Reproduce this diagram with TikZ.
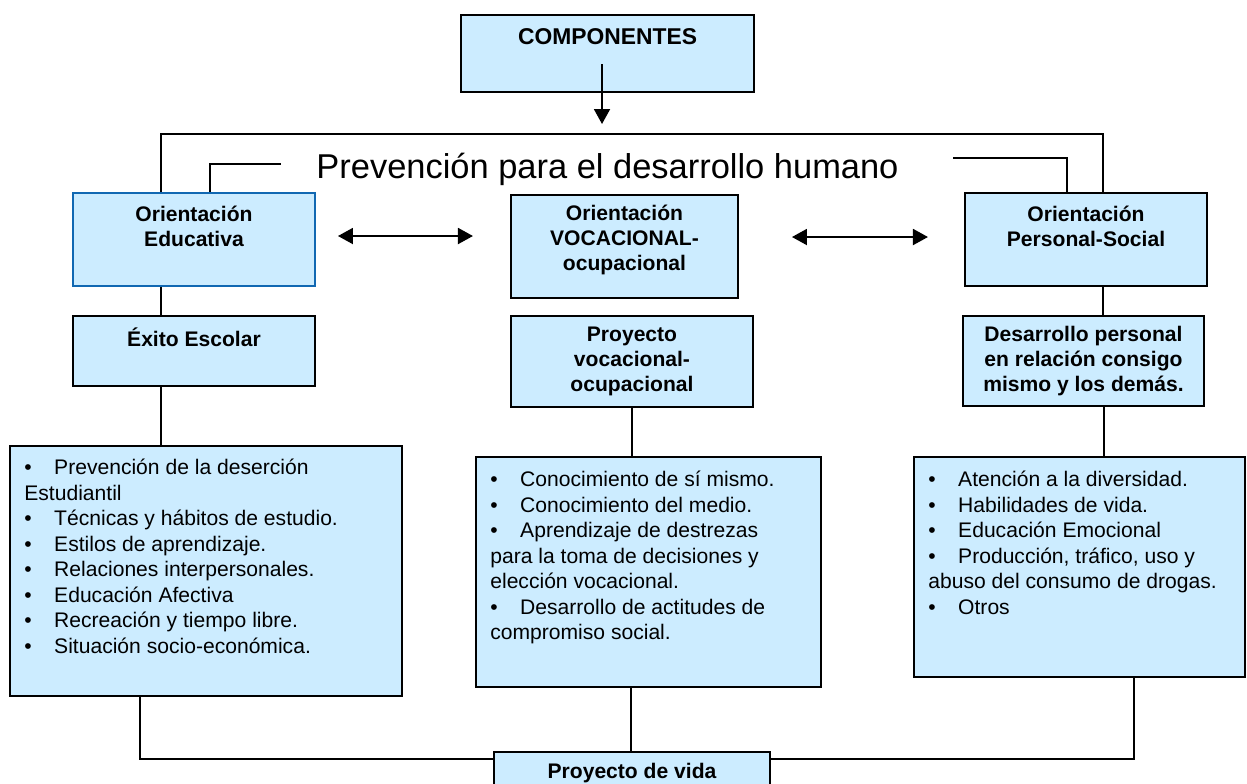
\documentclass[tikz,border=0pt]{standalone}
\usepackage{fontspec}
\setmainfont{Liberation Sans}
\usetikzlibrary{positioning, arrows.meta}
\definecolor{boxblue}{RGB}{204,236,255}
\definecolor{edgeblue}{RGB}{17,104,178}
\newcommand{\itm}{\makebox[17pt][l]{\textbullet}}

\begin{document}
\begin{tikzpicture}[
    box/.style={rectangle, draw=black, line width=1.1pt, fill=boxblue, inner sep=0pt},
    head/.style={font=\fontsize{12}{14.2}\selectfont\bfseries, align=center, inner sep=0pt},
    itemlist/.style={font=\fontsize{12}{14.5}\selectfont, align=left, anchor=north west, inner sep=0pt},
    link/.style={line width=0.9pt},
    arrow/.style={-{Triangle[length=0.3cm, width=0.32cm]}, line width=1.1pt},
    darrow/.style={{Triangle[length=0.3cm, width=0.32cm]}-{Triangle[length=0.3cm, width=0.32cm]}, line width=1.1pt}
]

\useasboundingbox (0,0) rectangle (24.94,-15.66);
\clip (0,0) rectangle (24.94,-15.66);

% Top box
\node[box, minimum width=5.86cm, minimum height=1.54cm] (comp) at (12.15,-1.07) {};
\node[head, font=\fontsize{13}{15}\selectfont\bfseries] (comp-txt) at (12.15,-0.74) {COMPONENTES};

% Title
\node[font=\fontsize{19.6}{23}\selectfont, anchor=base, inner sep=0pt] (tit) at (12.15,-3.56) {Prevención para el desarrollo humano};

% ============ Orientations ============
\node[box, draw=edgeblue, minimum width=4.84cm, minimum height=1.86cm] (edu) at (3.88,-4.79) {};
\node[head] (edu-txt) at (3.88,-4.53) {Orientación\\Educativa};

\node[box, minimum width=4.54cm, minimum height=2.06cm] (voc) at (12.49,-4.93) {};
\node[head] (voc-txt) at (12.49,-4.80) {Orientación\\VOCACIONAL-\\ocupacional};

\node[box, minimum width=4.84cm, minimum height=1.86cm] (per) at (21.72,-4.79) {};
\node[head] (per-txt) at (21.72,-4.53) {Orientación\\Personal-Social};

% ============ Goals ============
\node[box, minimum width=4.84cm, minimum height=1.40cm] (exito) at (3.88,-7.02) {};
\node[head] (exito-txt) at (3.88,-6.74) {Éxito Escolar};

\node[box, minimum width=4.84cm, minimum height=1.82cm] (proy) at (12.64,-7.23) {};
\node[head] (proy-txt) at (12.64,-7.22) {Proyecto\\vocacional-\\ocupacional};

\node[box, minimum width=4.82cm, minimum height=1.80cm] (desa) at (21.67,-7.22) {};
\node[head] (desa-txt) at (21.67,-7.22) {Desarrollo personal\\en relación consigo\\mismo y los demás.};

% ============ Lists ============
\node[box, minimum width=7.84cm, minimum height=5.00cm] (list1) at (4.12,-11.42) {};
\node[itemlist] (list1-txt) at (0.48,-9.18) {
    \itm Prevención de la deserción\\
    Estudiantil\\
    \itm Técnicas y hábitos de estudio.\\
    \itm Estilos de aprendizaje.\\
    \itm Relaciones interpersonales.\\
    \itm Educación Afectiva\\
    \itm Recreación y tiempo libre.\\
    \itm Situación socio-económica.
};

\node[box, minimum width=6.90cm, minimum height=4.60cm] (list2) at (12.97,-11.44) {};
\node[itemlist] (list2-txt) at (9.80,-9.42) {
    \itm Conocimiento de sí mismo.\\
    \itm Conocimiento del medio.\\
    \itm Aprendizaje de destrezas\\
    para la toma de decisiones y\\
    elección vocacional.\\
    \itm Desarrollo de actitudes de\\
    compromiso social.
};

\node[box, minimum width=6.62cm, minimum height=4.40cm] (list3) at (21.59,-11.34) {};
\node[itemlist] (list3-txt) at (18.56,-9.42) {
    \itm Atención a la diversidad.\\
    \itm Habilidades de vida.\\
    \itm Educación Emocional\\
    \itm Producción, tráfico, uso y\\
    abuso del consumo de drogas.\\
    \itm Otros
};

% Bottom box
\node[box, minimum width=5.52cm, minimum height=0.96cm] (vida) at (12.64,-15.52) {};
\node[head] (vida-txt) at (12.64,-15.46) {Proyecto de vida};

% ============ Connectors ============
\coordinate (comp-start) at (12.04,-1.28);
\coordinate (comp-end) at (12.04,-2.48);
\draw[arrow] (comp-start) -- (comp-end);

\draw[link] ([xshift=-0.66cm]edu.north) -- ++(0,1.16) -| ([xshift=0.34cm]per.north);
\draw[link] ([xshift=0.32cm]edu.north) |- ++(1.42,0.56);
\draw[link] ([xshift=-0.38cm]per.north) |- ++(-2.28,0.68);

\draw[darrow] ([shift={(0.44,0.07)}]edu.east) -- ++(2.7,0);
\draw[darrow] ([shift={(1.06,0.19)}]voc.east) -- ++(2.72,0);

\draw[link] ([xshift=-0.66cm]edu.south) -- ([xshift=-0.66cm]exito.north);
\draw[link] ([xshift=-0.66cm]exito.south) -- ([xshift=-0.66cm]exito.south |- list1.north);
\draw[link] (proy.south) -- (proy.south |- list2.north);
\draw[link] ([xshift=0.34cm]per.south) -- ([xshift=0.39cm]desa.north);
\draw[link] ([xshift=0.41cm]desa.south) -- ([xshift=0.41cm]desa.south |- list3.north);

\draw[link] ([xshift=-0.35cm]list2.south) -- ([xshift=-0.35cm]list2.south |- vida.north);
\draw[link] ([xshift=-1.32cm]list1.south) |- ([yshift=0.34cm]vida.west);
\draw[link] ([xshift=1.09cm]list3.south) |- ([yshift=0.34cm]vida.east);

\end{tikzpicture}
\end{document}
